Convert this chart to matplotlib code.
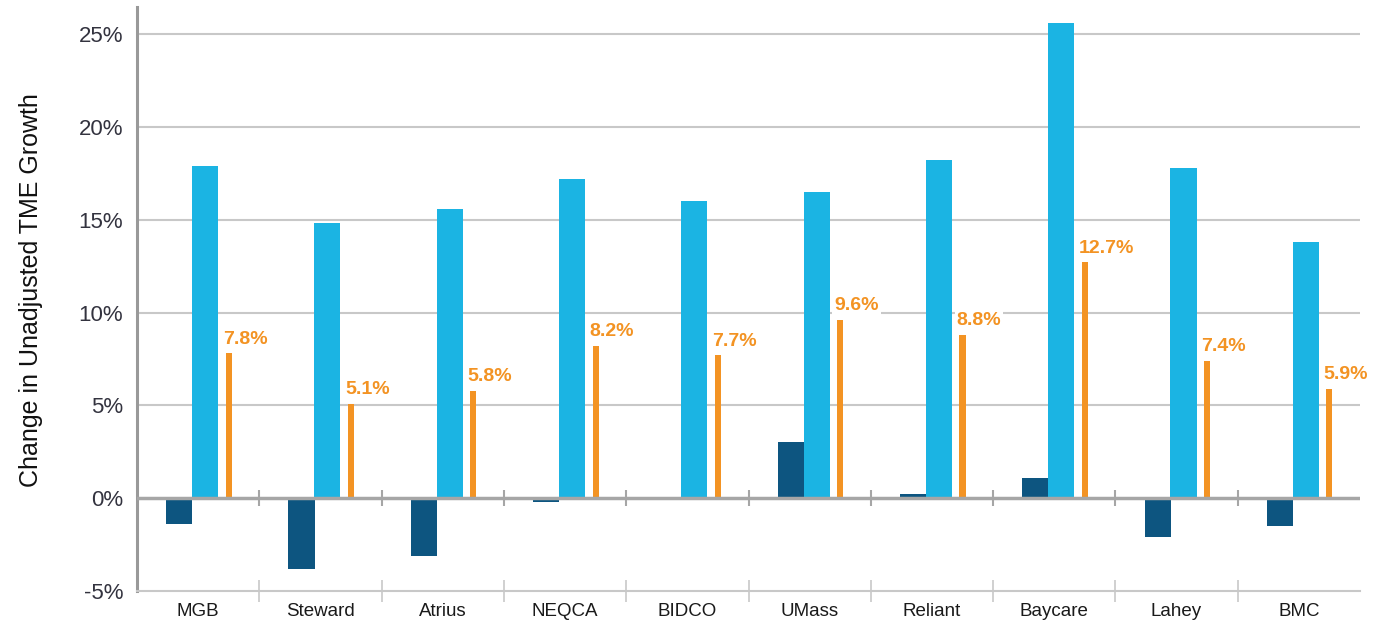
import matplotlib
matplotlib.use("Agg")
import matplotlib.pyplot as plt
import numpy as np

plt.rcParams['font.family'] = ['Liberation Sans', 'DejaVu Sans']

groups = ["MGB", "Steward", "Atrius", "NEQCA", "BIDCO", "UMass", "Reliant", "Baycare", "Lahey", "BMC"]
dark_values = [-1.4, -3.8, -3.1, -0.2, 0.0, 3.0, 0.2, 1.1, -2.1, -1.5]
light_values = [17.9, 14.8, 15.6, 17.2, 16.0, 16.5, 18.2, 25.6, 17.8, 13.8]
orange_values = [7.8, 5.1, 5.8, 8.2, 7.7, 9.6, 8.8, 12.7, 7.4, 5.9]
y_ticks = [-5, 0, 5, 10, 15, 20, 25]

DARK = "#0d5580"
LIGHT = "#1bb4e3"
ORANGE = "#f39323"
GRID = "#c8c8c8"
AXIS = "#a6a6a6"

fig = plt.figure(figsize=(13.85, 6.23), dpi=100)
ax = fig.add_axes([137 / 1385, 1 - 591 / 623, (1360 - 137) / 1385, (591 - 7) / 623])

x = np.arange(len(groups))
wide = 0.213
thin = 0.05

ax.bar(x - 0.155, dark_values, width=wide, color=DARK, zorder=3)
ax.bar(x + 0.057, light_values, width=wide, color=LIGHT, zorder=3)
ax.bar(x + 0.25, orange_values, width=thin, color=ORANGE, zorder=3)

for xi, v in zip(x, orange_values):
    ax.annotate(f"{v:.1f}%", xy=(xi + 0.25 - thin / 2, v), xytext=(-2, 4),
                textcoords="offset points", ha="left", va="bottom",
                fontsize=14, fontweight="bold", color=ORANGE, zorder=4,
                bbox=dict(boxstyle="square,pad=0.1", fc="white", ec="none"))

ax.set_xlim(-0.5, len(groups) - 0.5)
ax.set_ylim(-5, 26.46)

# horizontal grid and zero baseline
for t in y_ticks[2:]:
    ax.axhline(t, color=GRID, lw=1.5, zorder=1)
ax.axhline(0, color=AXIS, lw=2.5, zorder=4)

# category separators on the baseline
bounds = np.arange(0.5, len(groups) - 0.5, 1.0)
ax.vlines(bounds, -0.42, 0.42, color=AXIS, lw=1.5, zorder=4)

ax.set_yticks(y_ticks)
ax.set_yticklabels([f"{t}%" for t in y_ticks], fontsize=16, color="#33333f")
ax.tick_params(axis="y", length=0, pad=10)

ax.set_xticks(x)
ax.set_xticklabels(groups, fontsize=13.5, color="#1a1a1a")
ax.tick_params(axis="x", which="major", length=0, pad=9)
ax.set_xticks(bounds, minor=True)
ax.tick_params(axis="x", which="minor", direction="inout", length=16, width=1.2, color=GRID)

for side in ["top", "right"]:
    ax.spines[side].set_visible(False)
ax.spines["left"].set_color("#999999")
ax.spines["left"].set_linewidth(2.2)
ax.spines["bottom"].set_color(GRID)
ax.spines["bottom"].set_linewidth(1.5)

ax.set_ylabel("Change in Unadjusted TME Growth", fontsize=18, color="#111111")
ax.yaxis.set_label_coords(-0.077, 0.515)

fig.savefig("out.png", dpi=100)
